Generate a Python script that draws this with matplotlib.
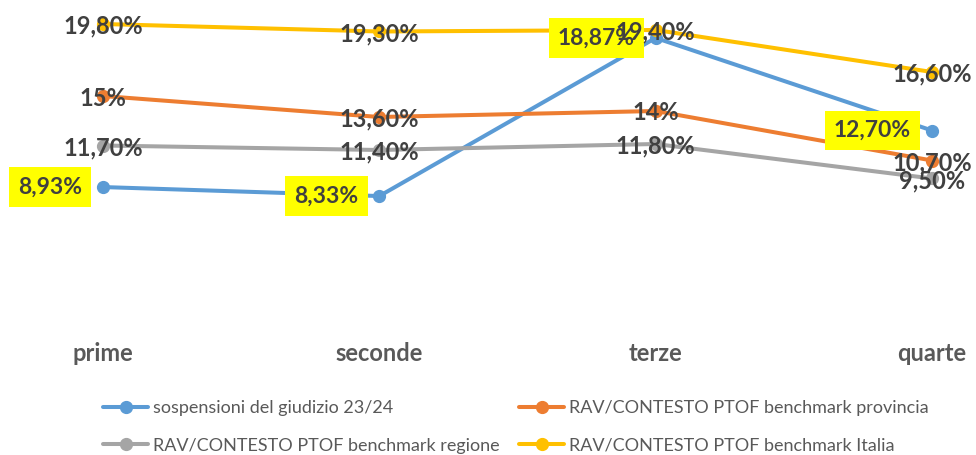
import matplotlib
matplotlib.use('Agg')
import matplotlib.pyplot as plt

plt.rcParams['font.family'] = ['Lato', 'DejaVu Sans']

categories = ['prime', 'seconde', 'terze', 'quarte']
series_names = ['sospensioni del giudizio 23/24',
                'RAV/CONTESTO PTOF benchmark provincia',
                'RAV/CONTESTO PTOF benchmark regione',
                'RAV/CONTESTO PTOF benchmark Italia']
sospensioni = [8.93, 8.33, 18.87, 12.70]
provincia = [15.0, 13.60, 14.0, 10.70]
regione = [11.70, 11.40, 11.80, 9.50]
italia = [19.80, 19.30, 19.40, 16.60]
sosp_labels = ['8,93%', '8,33%', '18,87%', '12,70%']
prov_labels = ['15%', '13,60%', '14%', '10,70%']
reg_labels = ['11,70%', '11,40%', '11,80%', '9,50%']
ita_labels = ['19,80%', '19,30%', '19,40%', '16,60%']

colors = ['#5B9BD5', '#ED7D31', '#A5A5A5', '#FFC000']
label_color = '#404040'

fig = plt.figure(figsize=(9.76, 4.55), dpi=100)
ax = fig.add_axes([0, 134 / 455, 1, 321 / 455])

x = list(range(len(categories)))
all_vals = [sospensioni, provincia, regione, italia]
all_labels = [sosp_labels, prov_labels, reg_labels, ita_labels]

lines = []
for i, vals in enumerate(all_vals):
    ln, = ax.plot(x, vals, color=colors[i], lw=2.9, marker='o', ms=8.5,
                  solid_capstyle='round', zorder=2 + i * 0.1, label=series_names[i])
    lines.append(ln)

# data labels: first series in yellow boxes left of the point, others centred
for i, (vals, labs) in enumerate(zip(all_vals, all_labels)):
    for xi, v, lab in zip(x, vals, labs):
        if i == 0:
            ax.annotate(lab, (xi, v), xytext=(-21, 0), textcoords='offset pixels',
                        ha='right', va='center', fontsize=16.5, fontweight='bold',
                        color=label_color, zorder=5,
                        bbox=dict(boxstyle='square,pad=0.4', fc='#FFFF00', ec='none'))
        else:
            ax.annotate(lab, (xi, v), xytext=(0, 0), textcoords='offset pixels',
                        ha='center', va='center_baseline', fontsize=17, fontweight='bold',
                        color=label_color, zorder=5 + i)

ax.set_xlim(-103 / 276.3, 3 + 44 / 276.3)
ax.set_ylim(0, 21.4)
ax.set_xticks(x)
ax.set_xticklabels(categories, fontsize=17, fontweight='bold', color='#595959')
ax.tick_params(axis='x', length=0, pad=15)
ax.set_yticks([])
for s in ax.spines.values():
    s.set_visible(False)

# legend filled row by row like the original
order = [0, 2, 1, 3]
fig.legend(handles=[lines[k] for k in order], ncol=2, loc='upper left',
           bbox_to_anchor=(103 / 976, 55 / 455),
           frameon=False, fontsize=13, labelcolor='#595959', handlelength=2.5,
           handletextpad=0.25, columnspacing=1.1, labelspacing=1.2, borderpad=0,
           borderaxespad=0, numpoints=1)

fig.savefig('out.png', dpi=100)
